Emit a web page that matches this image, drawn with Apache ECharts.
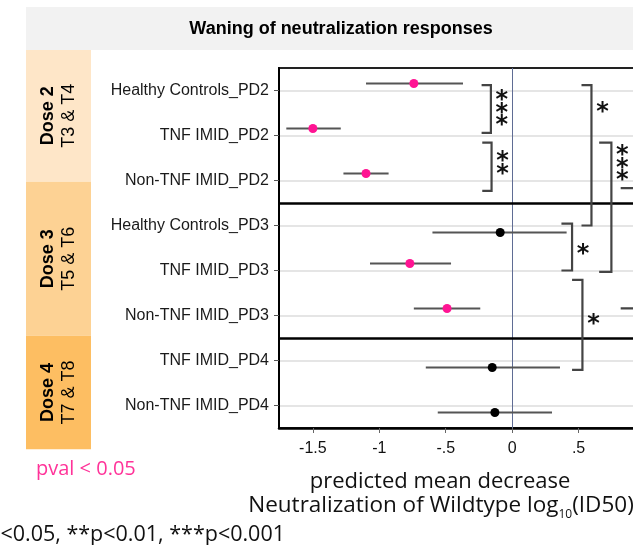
<!DOCTYPE html>
<html>
<head>
<meta charset="utf-8">
<script src="https://cdn.jsdelivr.net/npm/echarts@6/dist/echarts.min.js"></script>
<style>
  html, body { margin: 0; padding: 0; background: #fff; }
  #chart { width: 633px; height: 545px; }
</style>
</head>
<body>
<div id="chart"></div>
<script>
// rows, top to bottom
var categories = [
    'Healthy Controls_PD2', 'TNF IMID_PD2', 'Non-TNF IMID_PD2',
    'Healthy Controls_PD3', 'TNF IMID_PD3', 'Non-TNF IMID_PD3',
    'TNF IMID_PD4', 'Non-TNF IMID_PD4'
];
var estimate = [-0.74, -1.50, -1.10, -0.09, -0.77, -0.49, -0.15, -0.13];
var ciLow    = [-1.10, -1.70, -1.27, -0.60, -1.07, -0.74, -0.65, -0.56];
var ciHigh   = [-0.37, -1.29, -0.93,  0.41, -0.46, -0.24,  0.36,  0.30];
var significant = [1, 1, 1, 0, 1, 1, 0, 0];
var xTicks = [-1.5, -1, -0.5, 0, 0.5, 1];

// comparison brackets: x of the bracket, from / to (row units), star position, stars
var bracketX     = [-0.16, -0.155, 0.597, 0.747, 0.451, 0.529, 0.92];
var bracketArmX  = [-0.23, -0.225, 0.522, 0.655, 0.371, 0.451, 0.817];
var bracketFrom  = [0.38, 1.66, 0.38, 1.66, 3.46, 4.71, 2.67];
var bracketTo    = [1.44, 2.73, 3.50, 4.53, 4.50, 6.71, 5.34];
var bracketStarY = [0.90, 2.12, 0.89, 2.12, 4.04, 5.60, 4.0];
var bracketStars = ['***', '**', '*', '***', '*', '*', ''];

var doses = [
    { title: 'Dose 2', sub: 'T3 & T4', color: '#FEE6C8' },
    { title: 'Dose 3', sub: 'T5 & T6', color: '#FDD294' },
    { title: 'Dose 4', sub: 'T7 & T8', color: '#FDBE62' }
];

var FONT = '"Liberation Sans", Arial, sans-serif';
var FONT2 = '"Open Sans", "Noto Sans", sans-serif';

var rows = categories.map(function (c, i) {
    return [ciLow[i], ciHigh[i], estimate[i], i + 0.5, significant[i]];
});
var brackets = bracketX.map(function (x, i) {
    return [bracketArmX[i], x, bracketFrom[i], bracketTo[i], bracketStarY[i], i];
});
var rowMid = categories.map(function (c, i) { return i + 0.5; });

function fmtTick(v) {
    var s = String(v);
    return s.replace(/^(-?)0\./, '$1.');
}

var chart = echarts.init(document.getElementById('chart'), null, { renderer: 'canvas' });

// strip boxes on the left
var stripTop = [50, 181.7, 335.7];
var stripHeight = [131.7, 154, 113.6];
var graphics = [
    { type: 'rect', left: 26, top: 7, shape: { width: 620, height: 43 }, style: { fill: '#F2F2F2' } },
    { type: 'text', x: 341, y: 29, style: {
        text: 'Waning of neutralization responses', font: 'bold 18px ' + FONT,
        fill: '#000', align: 'center', verticalAlign: 'middle' } }
];
doses.forEach(function (d, i) {
    graphics.push({ type: 'rect', left: 26, top: stripTop[i], shape: { width: 65, height: stripHeight[i] }, style: { fill: d.color } });
    graphics.push({ type: 'text', x: 58.5, y: stripTop[i] + stripHeight[i] / 2, rotation: Math.PI / 2, style: {
        text: '{a|' + d.title + '}\n{b|' + d.sub + '}', align: 'center', verticalAlign: 'middle',
        rich: {
            a: { font: 'bold 18px ' + FONT, fill: '#000', lineHeight: 21, align: 'center' },
            b: { font: '18px ' + FONT, fill: '#000', lineHeight: 21, align: 'center' }
        } } });
});
graphics.push({ type: 'text', x: 36, y: 469, style: {
    text: 'pval < 0.05', font: '20px ' + FONT2, fill: '#FF3399', align: 'left', verticalAlign: 'middle' } });
graphics.push({ type: 'text', x: 440, y: 482, style: {
    text: 'predicted mean decrease', font: '22px ' + FONT2, fill: '#111', align: 'center', verticalAlign: 'middle' } });
graphics.push({ type: 'text', x: 441, y: 506, style: {
    text: '{n|Neutralization of Wildtype log}{s|10}{n|(ID50)}', align: 'center', verticalAlign: 'middle',
    rich: {
        n: { font: '22.5px ' + FONT2, fill: '#111', lineHeight: 24 },
        s: { font: '12px ' + FONT2, fill: '#111', lineHeight: 24, verticalAlign: 'bottom', padding: [0, 0, -3, 0] }
    } } });
graphics.push({ type: 'text', x: 285, y: 535, style: {
    text: '*p<0.05, **p<0.01, ***p<0.001', font: '21.5px ' + FONT2, fill: '#111', align: 'right', verticalAlign: 'middle' } });

chart.setOption({
    animation: false,
    grid: {
        left: 279, top: 68, width: 366, height: 360,
        outerBoundsMode: 'none', containLabel: false,
        show: true, borderColor: '#222', borderWidth: 2, backgroundColor: 'transparent'
    },
    xAxis: {
        type: 'value', min: -1.755, max: 1.0,
        axisLine: { show: true, onZero: false, lineStyle: { color: '#000', width: 2.5 } },
        axisTick: { show: true, length: 5, customValues: xTicks, lineStyle: { color: '#666', width: 1 } },
        axisLabel: { customValues: xTicks, margin: 13, formatter: fmtTick,
            fontSize: 16, fontFamily: FONT, color: '#111' },
        splitLine: { show: false }
    },
    yAxis: {
        type: 'value', inverse: true, min: 0, max: 8, interval: 1,
        axisLine: { show: true, onZero: false, lineStyle: { color: '#000', width: 2 } },
        axisTick: { show: true, length: 5, customValues: rowMid, lineStyle: { color: '#555', width: 1 } },
        axisLabel: {
            customValues: rowMid,
            formatter: function (v) { return categories[Math.floor(v)]; },
            margin: 10, fontSize: 16, fontFamily: FONT, color: '#1a1a1a'
        },
        splitLine: { show: true, lineStyle: { color: '#DDDDDD', width: 1.5 } }
    },
    graphic: graphics,
    series: [
        {
            type: 'custom',
            name: 'estimates',
            data: rows,
            encode: { x: [0, 1, 2], y: 3 },
            clip: false,
            z: 5,
            renderItem: function (params, api) {
                var y = api.value(3);
                var lo = api.coord([api.value(0), y]);
                var hi = api.coord([api.value(1), y]);
                var p = api.coord([api.value(2), y]);
                var sig = api.value(4) === 1;
                var dy = sig ? -7 : 7;
                return {
                    type: 'group',
                    children: [
                        { type: 'line', shape: { x1: lo[0], y1: lo[1] + dy, x2: hi[0], y2: hi[1] + dy },
                          style: { stroke: '#555', lineWidth: 1.8 } },
                        { type: 'circle', shape: { cx: p[0], cy: p[1] + dy, r: 4.5 },
                          style: { fill: sig ? '#FF1493' : '#000' } }
                    ]
                };
            },
            markLine: {
                silent: true, symbol: 'none', label: { show: false },
                lineStyle: { type: 'solid' },
                data: [
                    { xAxis: 0, lineStyle: { color: '#5F6C94', width: 1 } },
                    { yAxis: 3, lineStyle: { color: '#000', width: 2.5 } },
                    { yAxis: 6, lineStyle: { color: '#000', width: 2.5 } }
                ]
            }
        },
        {
            type: 'custom',
            name: 'brackets',
            data: brackets,
            encode: { x: [0, 1], y: [2, 3] },
            clip: false,
            z: 6,
            renderItem: function (params, api) {
                var a1 = api.coord([api.value(0), api.value(2)]);
                var b1 = api.coord([api.value(1), api.value(2)]);
                var b2 = api.coord([api.value(1), api.value(3)]);
                var a2 = api.coord([api.value(0), api.value(3)]);
                var sy = api.coord([api.value(1), api.value(4)])[1];
                var stars = bracketStars[api.value(5)];
                var children = [{
                    type: 'polyline',
                    shape: { points: [a1, b1, b2, a2] },
                    style: { stroke: '#444', lineWidth: 2.2, fill: null }
                }];
                var n = stars.length;
                for (var k = 0; k < n; k++) {
                    children.push({
                        type: 'text', x: b1[0] + 11, y: sy + (k - (n - 1) / 2) * 12.5 + 5,
                        style: { text: '*', font: 'bold 24px "DejaVu Sans", sans-serif', fill: '#111',
                                 align: 'center', verticalAlign: 'middle' }
                    });
                }
                return { type: 'group', children: children };
            }
        }
    ]
});
</script>
</body>
</html>
